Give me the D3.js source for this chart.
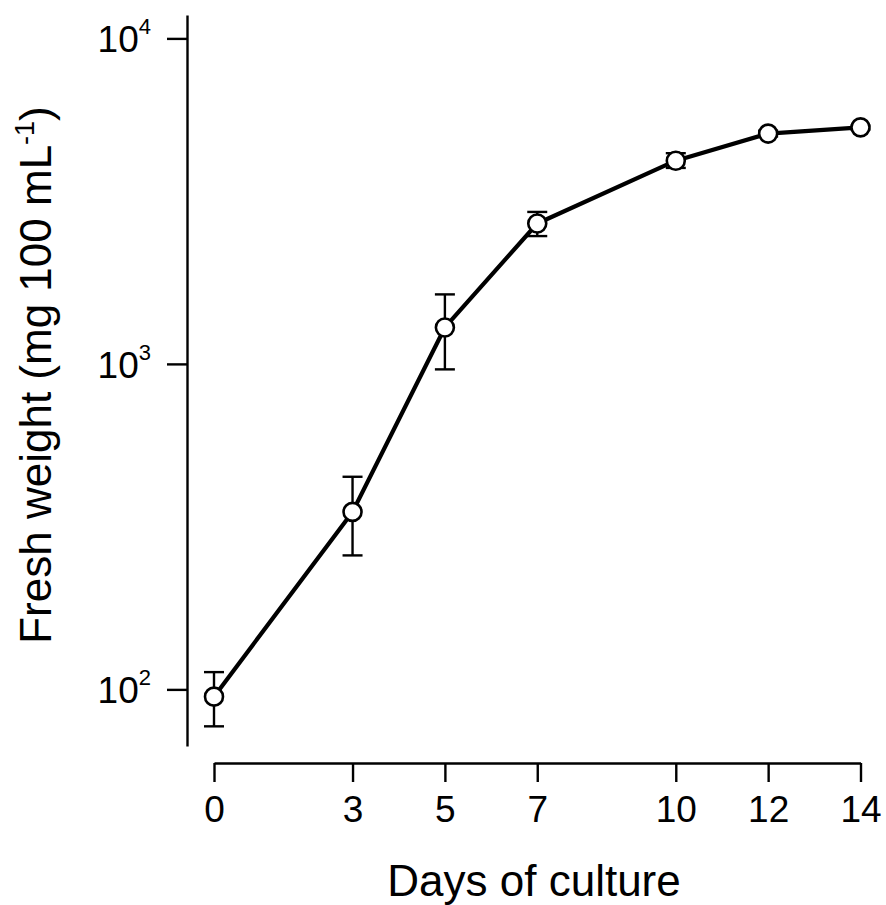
<!DOCTYPE html>
<html>
<head>
<meta charset="utf-8">
<script src="https://cdn.jsdelivr.net/npm/d3@7"></script>
<style>
  body { margin: 0; background: #fff; }
  svg { display: block; font-family: "Liberation Sans", Arial, Helvetica, sans-serif; }
</style>
</head>
<body>
<svg id="chart" width="886" height="905"></svg>
<script>
// Growth data
const days = [0, 3, 5, 7, 10, 12, 14];
const freshWeight = [95, 351, 1294, 2700, 4210, 5100, 5330];
const errLow = [77, 258, 962, 2470, 4000, 5000, 5250];
const errHigh = [113, 450, 1635, 2930, 4440, 5200, 5400];
const yTicks = [100, 1000, 10000];
const yExtent = [67, 11800]; // axis line reaches a bit past the decades

const svg = d3.select('#chart');

const x = d3.scaleLinear().domain([0, 14]).range([214, 860.5]);
const y = d3.scaleLog().domain(yExtent).range([746, 15]);

const points = days.map((d, i) => ({ day: d, v: freshWeight[i], lo: errLow[i], hi: errHigh[i] }));

// x axis
const xAxis = svg.append('g')
  .attr('transform', 'translate(0,763)')
  .call(d3.axisBottom(x).tickValues(days).tickSize(19).tickSizeOuter(0).tickPadding(14));
xAxis.select('.domain').attr('stroke-width', 2.4);
xAxis.selectAll('.tick line').attr('stroke-width', 2.4);
xAxis.selectAll('.tick text')
  .attr('font-size', 37)
  .attr('font-family', '"Liberation Sans", Arial, sans-serif')
  .attr('fill', '#000');

// y axis (log, labels drawn as 10^n)
const yAxis = svg.append('g')
  .attr('transform', 'translate(187,0)')
  .call(d3.axisLeft(y).tickValues(yTicks).tickSize(20).tickSizeOuter(0).tickFormat(''));
yAxis.select('.domain').attr('stroke-width', 2.4);
yAxis.selectAll('.tick line').attr('stroke-width', 2.4);

const yLab = svg.append('g').selectAll('text')
  .data(yTicks)
  .join('text')
  .attr('x', 151)
  .attr('y', d => y(d) + 14)
  .attr('text-anchor', 'end')
  .attr('font-size', 37);
yLab.append('tspan').text('10');
yLab.append('tspan')
  .attr('dy', -18)
  .attr('font-size', 22)
  .text(d => Math.round(Math.log10(d)));

// error bars
const eb = svg.append('g').attr('stroke', '#000').attr('stroke-width', 2.4);
eb.selectAll('line.v').data(points).join('line')
  .attr('x1', d => x(d.day)).attr('x2', d => x(d.day))
  .attr('y1', d => y(d.lo)).attr('y2', d => y(d.hi));
eb.selectAll('line.top').data(points).join('line')
  .attr('x1', d => x(d.day) - 10).attr('x2', d => x(d.day) + 10)
  .attr('y1', d => y(d.hi)).attr('y2', d => y(d.hi));
eb.selectAll('line.bot').data(points).join('line')
  .attr('x1', d => x(d.day) - 10).attr('x2', d => x(d.day) + 10)
  .attr('y1', d => y(d.lo)).attr('y2', d => y(d.lo));

// line
const line = d3.line().x(d => x(d.day)).y(d => y(d.v));
svg.append('path')
  .datum(points)
  .attr('d', line)
  .attr('fill', 'none')
  .attr('stroke', '#000')
  .attr('stroke-width', 4.2)
  .attr('stroke-linejoin', 'round');

// markers
svg.append('g').selectAll('circle')
  .data(points)
  .join('circle')
  .attr('cx', d => x(d.day))
  .attr('cy', d => y(d.v))
  .attr('r', 9)
  .attr('fill', '#fff')
  .attr('stroke', '#000')
  .attr('stroke-width', 2.6);

// axis titles
svg.append('text')
  .attr('x', 534)
  .attr('y', 896)
  .attr('text-anchor', 'middle')
  .attr('font-size', 44)
  .text('Days of culture');

const yTitle = svg.append('text')
  .attr('transform', 'translate(51,375) rotate(-90)')
  .attr('text-anchor', 'middle')
  .attr('font-size', 44);
yTitle.append('tspan').text('Fresh weight (mg 100 mL');
yTitle.append('tspan').attr('dy', -17).attr('font-size', 27).text('-1');
yTitle.append('tspan').attr('dy', 17).text(')');
</script>
</body>
</html>
